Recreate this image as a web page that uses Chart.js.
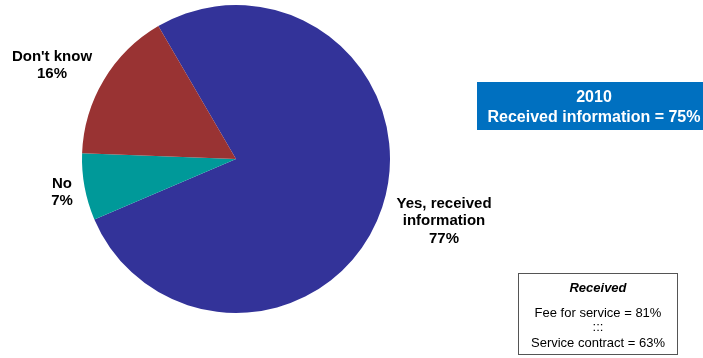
<!DOCTYPE html>
<html>
<head>
<meta charset="utf-8">
<script src="https://cdn.jsdelivr.net/npm/chart.js@4/dist/chart.umd.min.js"></script>
<style>
    html, body { margin: 0; padding: 0; background: #ffffff; }
    #wrap { position: relative; width: 703px; height: 358px; }
</style>
</head>
<body>
<div id="wrap">
    <canvas id="grafico" width="703" height="358"></canvas>
</div>
<script>
// respostas da pesquisa
const categorias = ['Yes, received information', 'No', "Don't know"];
const valores = [77, 7, 16];
const cores = ['#333399', '#009999', '#993333'];

// quadros de destaque
const anoDestaque = '2010';
const recebeuAnterior = 75;
const tiposServico = ['Fee for service', 'Service contract'];
const recebeuPorTipo = [81, 63];

const fonte = '"Liberation Sans", Arial, Helvetica, sans-serif';

// posição dos rótulos de cada fatia (linhas quebradas)
const rotulos = [
    { linhas: ['Yes, received', 'information'], x: 444, y: 208 },
    { linhas: ['No'], x: 62, y: 188 },
    { linhas: ["Don't know"], x: 52, y: 61 }
];

const pluginTextos = {
    id: 'textos',
    afterDraw(chart) {
        const ctx = chart.ctx;
        ctx.save();
        ctx.textAlign = 'center';
        ctx.textBaseline = 'alphabetic';

        // rótulos das fatias
        ctx.fillStyle = '#000000';
        ctx.font = 'bold 15px ' + fonte;
        rotulos.forEach((r, i) => {
            let linhas = r.linhas.concat([valores[i] + '%']);
            linhas.forEach((l, j) => {
                ctx.fillText(l, r.x, r.y + j * 17.3);
            });
        });

        // quadro azul
        ctx.fillStyle = '#0070C0';
        ctx.fillRect(477, 82, 226, 48);
        ctx.fillStyle = '#ffffff';
        ctx.font = 'bold 16px ' + fonte;
        ctx.fillText(anoDestaque, 594, 102);
        ctx.fillText('Received information = ' + recebeuAnterior + '%', 594, 121.5);

        // quadro branco
        ctx.strokeStyle = '#555555';
        ctx.lineWidth = 1;
        ctx.strokeRect(518.5, 273.5, 159, 81);
        ctx.fillStyle = '#000000';
        ctx.font = 'italic bold 13px ' + fonte;
        ctx.fillText('Received', 598, 292);
        ctx.font = '13px ' + fonte;
        ctx.fillText(tiposServico[0] + ' = ' + recebeuPorTipo[0] + '%', 598, 317);
        ctx.fillText(':::', 598, 331);
        ctx.fillText(tiposServico[1] + ' = ' + recebeuPorTipo[1] + '%', 598, 347);

        ctx.restore();
    }
};

new Chart(document.getElementById('grafico'), {
    type: 'pie',
    data: {
        labels: categorias,
        datasets: [{
            data: valores,
            backgroundColor: cores,
            borderWidth: 0
        }]
    },
    options: {
        responsive: false,
        animation: false,
        rotation: -30.3,
        layout: { padding: { left: 82, right: 313, top: 5, bottom: 45 } },
        plugins: {
            legend: { display: false },
            tooltip: { enabled: false }
        }
    },
    plugins: [pluginTextos]
});
</script>
</body>
</html>
